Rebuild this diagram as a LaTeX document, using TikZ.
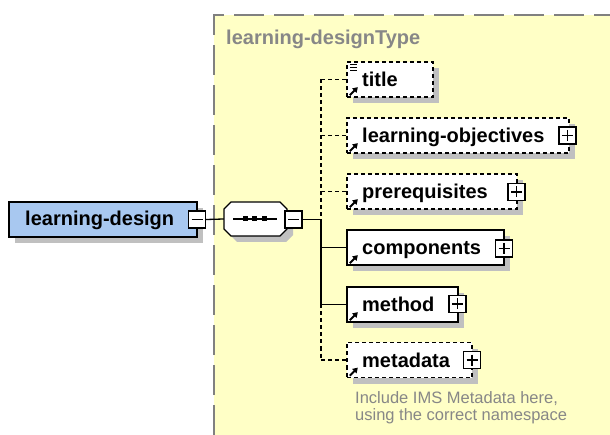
\documentclass[tikz,border=0pt]{standalone}
\usepackage{fontspec}
\setmainfont{Liberation Sans}
\usetikzlibrary{shadows,arrows.meta,calc}
\definecolor{paleyellow}{RGB}{255,255,198}
\definecolor{shadowgray}{RGB}{192,192,192}
\definecolor{ldblue}{RGB}{168,200,240}
\definecolor{framegray}{RGB}{128,128,128}
\definecolor{textgray}{RGB}{135,135,135}
\begin{document}
\begin{tikzpicture}[x=1pt,y=-1pt,
  shadowed/.style={drop shadow={shadow xshift=6pt,shadow yshift=-6pt,fill=shadowgray,opacity=1}},
  elem/.style={draw=black,line width=1.3pt,fill=white,minimum height=35pt,inner sep=0,shadowed},
  optelem/.style={elem,dash pattern=on 4pt off 3pt},
  signbox/.style={draw=black,line width=1.2pt,fill=white,minimum size=17pt,inner sep=0},
  minusbox/.style={signbox,path picture={\draw[line width=1.2pt] ([xshift=3pt]path picture bounding box.west) -- ([xshift=-3pt]path picture bounding box.east);}},
  plusbox/.style={signbox,path picture={\draw[line width=1.2pt] ([xshift=3pt]path picture bounding box.west) -- ([xshift=-3pt]path picture bounding box.east);
     \draw[line width=1.2pt] ([yshift=-3pt]path picture bounding box.north) -- ([yshift=3pt]path picture bounding box.south);}},
  lbl/.style={font=\bfseries\fontsize{20}{24}\selectfont,anchor=base west,inner sep=0},
  notetext/.style={font=\fontsize{16.5}{17}\selectfont,text=textgray,anchor=base west,inner sep=0},
  conn/.style={line width=1.3pt,draw=black},
  optconn/.style={conn,dash pattern=on 4pt off 3pt},
  iconarrow/.style={line width=1.8pt,-{Triangle[length=5pt,width=6pt]}},
  frame/.style={line width=2pt,draw=framegray,dash pattern=on 30pt off 10pt}
]
\useasboundingbox (0,0) rectangle (610,435);
% type area
\fill[paleyellow] (214,15) rectangle (610,435);
\draw[frame] (214,435) -- (214,15) -- (610,15);
\node[lbl,text=textgray] (typename) at (226,45) {learning-designType};

% root element
\node[elem,fill=ldblue,minimum width=188pt] (ld) at (103,219.5) {};
\node[lbl] (ldtext) at (25,226) {learning-design};
\node[minusbox] (ldm) at (197,219.5) {};

% sequence compositor
\node[minimum width=63pt,minimum height=34pt,inner sep=0] (seq) at (255.5,219) {};
\fill[shadowgray] (237,208) -- (286,208) -- (293,215) -- (293,235) -- (286,242) -- (237,242) -- (230,235) -- (230,215) -- cycle;
\draw[line width=1.3pt,fill=white] (231,202) -- (280,202) -- (287,209) -- (287,229) -- (280,236) -- (231,236) -- (224,229) -- (224,209) -- cycle;
\draw[line width=1.3pt] (233,219) -- (277,219);
\foreach \dx in {245,254.5,264} \fill (\dx-2.5,216.5) rectangle (\dx+2.5,221.5);
\node[minusbox] (seqm) at (293.5,219.5) {};
\draw[conn] (ldm.east) -- (seq.west);

% children
\coordinate (bus) at (321,0);
\node[optelem,minimum width=86pt] (title) at (390,79.5) {};
\node[lbl] at (362,86.5) {title};
\foreach \yy in {64.5,67.5,70.5} \draw[line width=1.3pt] (350,\yy) -- (357,\yy);

\node[optelem,minimum width=222pt] (lo) at (458,135.5) {};
\node[lbl] at (362,142.5) {learning-objectives};
\node[plusbox] (lop) at (567.5,135.5) {};

\node[optelem,minimum width=170pt] (pre) at (432,191.5) {};
\node[lbl] at (362,198.5) {prerequisites};
\node[plusbox] (prep) at (516.5,192) {};

\node[elem,minimum width=157pt] (comp) at (425.5,247.5) {};
\node[lbl] at (362,254.5) {components};
\node[plusbox] (compp) at (504,248.5) {};

\node[elem,minimum width=111pt] (method) at (402.5,304.5) {};
\node[lbl] at (362,311.5) {method};
\node[plusbox] (methodp) at (457.5,304) {};

\node[optelem,minimum width=125pt] (meta) at (409.5,360) {};
\node[lbl] at (362,367) {metadata};
\node[plusbox] (metap) at (472,360) {};

\node[notetext] (note1) at (355,403) {Include IMS Metadata here,};
\node[notetext] (note2) at (355,420) {using the correct namespace};

% reference arrows
\foreach \n in {title,lo,pre,comp,method,meta}
  \draw[iconarrow] ($(\n.south west)+(3.5,-2.5)$) -- ++(8,-8);

% connectors
\draw[conn] (seqm.east) -- (seqm.east -| bus);
\draw[optconn] (title.west -| bus) -- (seqm.east -| bus);
\draw[conn] (seqm.east -| bus) -- (method.west -| bus);
\draw[optconn] (method.west -| bus) -- (meta.west -| bus);
\draw[optconn] (title.west -| bus) -- (title.west);
\draw[optconn] (lo.west -| bus) -- (lo.west);
\draw[optconn] (pre.west -| bus) -- (pre.west);
\draw[conn] (comp.west -| bus) -- (comp.west);
\draw[conn] (method.west -| bus) -- (method.west);
\draw[optconn] (meta.west -| bus) -- (meta.west);
\end{tikzpicture}
\end{document}
